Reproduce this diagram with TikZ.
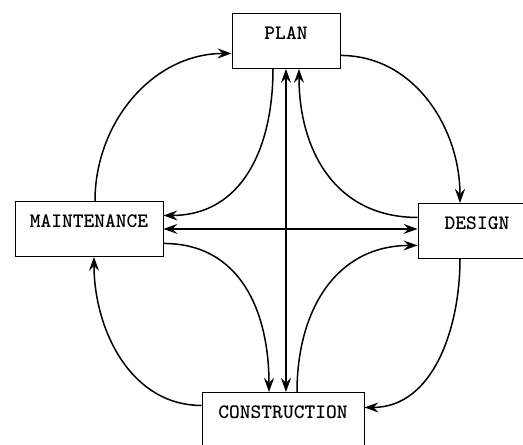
\documentclass[tikz,border=0pt]{standalone}
\usetikzlibrary{arrows.meta}

\tikzset{
  box/.style={draw, line width=0.9pt, inner xsep=0pt, inner ysep=0pt,
    text height=26pt, text depth=29pt, anchor=north,
    font=\ttfamily\bfseries\fontsize{20.5}{23}\selectfont},
  flow/.style={line width=1.5pt, -{Stealth[length=14pt,width=10pt,inset=5pt]}},
  both/.style={line width=1.2pt, {Stealth[length=14pt,width=10pt,inset=5pt]}-{Stealth[length=14pt,width=10pt,inset=5pt]}}
}

\begin{document}
\begin{tikzpicture}[x=1pt, y=-1pt]
  \clip (0,0) rectangle (523,445);
  \fill[white] (0,0) rectangle (523,445);
  \node[box, minimum width=108pt] (plan) at (286,13) {PLAN};
  \node[box, minimum width=148pt] (maint) at (89,201) {MAINTENANCE};
  \node[box, minimum width=118pt] (design) at (477,203) {DESIGN};
  \node[box, minimum width=162pt] (cons) at (283,392) {CONSTRUCTION};

  \draw[flow] ([xshift=6pt]maint.north) to[out=90, in=180] ([yshift=-12.5pt]plan.west);
  \draw[flow] ([yshift=-14.5pt]plan.east) to[out=0, in=90] ([xshift=-17pt]design.north);
  \draw[flow] ([xshift=-17pt]design.south) to[out=-90, in=0] ([yshift=12.5pt]cons.east);
  \draw[flow] ([yshift=14.5pt]cons.west) to[out=180, in=-90] ([xshift=5pt]maint.south);

  \draw[flow] ([xshift=-13pt]plan.south) to[out=-90, in=0, looseness=1.1] ([yshift=13.5pt]maint.east);
  \draw[flow] ([yshift=13.5pt]design.west) to[out=180, in=-90, looseness=1.1] ([xshift=13pt]plan.south);
  \draw[flow] ([yshift=-14.5pt]maint.east) to[out=0, in=90, looseness=1.1] ([xshift=-14pt]cons.north);
  \draw[flow] ([xshift=14pt]cons.north) to[out=90, in=180, looseness=1.1] ([yshift=-14.5pt]design.west);

  \draw[both] (plan.south) -- (plan.south |- cons.north);
  \draw[both] (maint.east) -- (maint.east -| design.west);
\end{tikzpicture}
\end{document}
